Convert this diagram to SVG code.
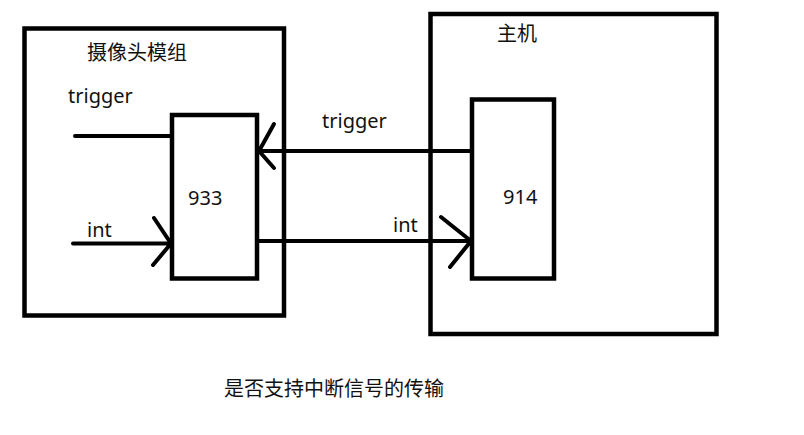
<svg xmlns="http://www.w3.org/2000/svg" width="804" height="435" viewBox="0 0 804 435">
<style>
.box{fill:none;stroke:#000;stroke-width:4.5}
.ln{fill:none;stroke:#000;stroke-width:4;stroke-linecap:round;stroke-linejoin:round}
.lat{font-family:"Noto Sans","Open Sans",sans-serif;font-size:20px;fill:#111}
.cjk{font-family:"Noto Sans CJK SC",sans-serif;font-size:20px;fill:#111}
</style>
<rect width="804" height="435" fill="#fff"/>
<g id="camera-module">
<rect class="box" x="24.5" y="28.5" width="259.5" height="287"/>
<text class="cjk" x="87" y="60" font-size="21.5">摄像头模组</text>
<text class="lat" x="68" y="103">trigger</text>
<text class="lat" x="87" y="237">int</text>
</g>
<g id="chip-933">
<rect class="box" x="172" y="115" width="85" height="163.5"/>
<text class="lat" x="188" y="205" font-size="21.5">933</text>
</g>
<g id="host">
<rect class="box" x="430.5" y="14" width="286" height="320"/>
<text class="cjk" x="497" y="41">主机</text>
</g>
<g id="chip-914">
<rect class="box" x="472" y="99.5" width="82" height="179"/>
<text class="lat" x="503" y="204" font-size="21.5">914</text>
</g>
<g id="connectors">
<path class="ln" d="M75 136H172"/>
<path class="ln" d="M73 243.5H171M154 218L171 243.5L153 265"/>
<path class="ln" d="M472 151H259M274 124L259 151L274 168"/>
<path class="ln" d="M257 241H471M441 217L471 241L450 267"/>
<text class="lat" x="322" y="128">trigger</text>
<text class="lat" x="393" y="232">int</text>
</g>
<text class="cjk" x="224" y="396" font-size="21">是否支持中断信号的传输</text>
</svg>
